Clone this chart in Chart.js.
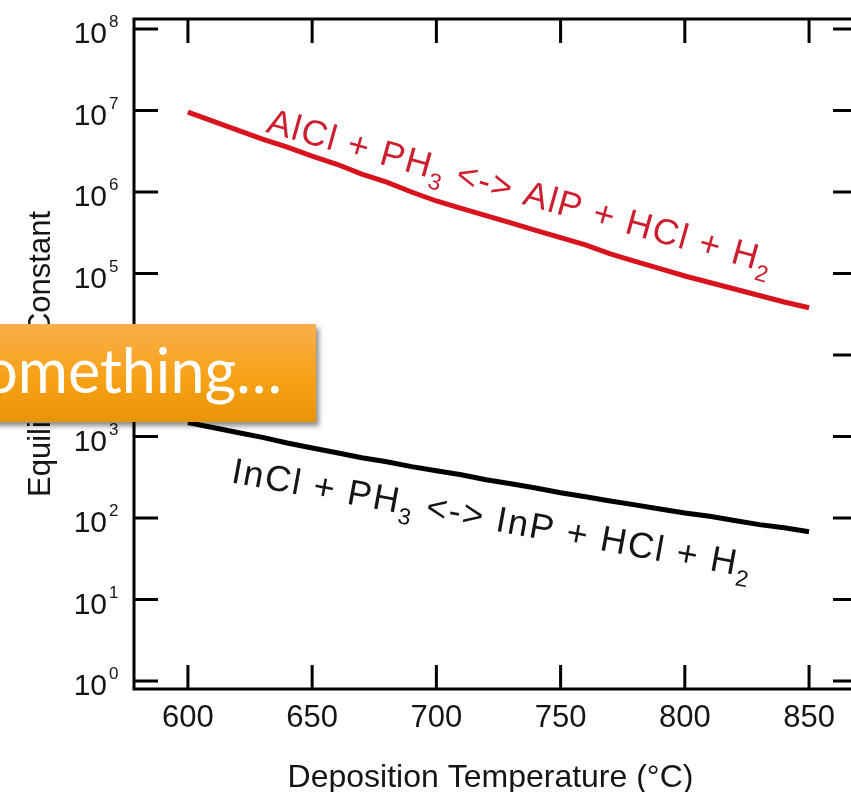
<!DOCTYPE html>
<html>
<head>
<meta charset="utf-8">
<script src="https://cdn.jsdelivr.net/npm/chart.js@4.4.1/dist/chart.umd.min.js"></script>
<style>
  html, body { margin: 0; padding: 0; background: #fff; overflow: hidden; }
  #wrap { position: relative; width: 851px; height: 792px; overflow: hidden; }
  #chartBox { position: absolute; left: 0; top: 0; width: 880px; height: 792px; }
  #banner {
    position: absolute; left: -300px; top: 324px; width: 616px; height: 98px;
    box-sizing: border-box; padding-right: 34px; text-align: right; white-space: nowrap;
    font-family: Lato, "Open Sans", sans-serif; font-size: 61px; line-height: 92px; color: #fff;
    background: linear-gradient(to bottom, #f9ae4a 0%, #f8a526 40%, #f6a112 60%, #e8930a 100%);
    box-shadow: 3px 4px 5px rgba(0, 0, 0, 0.45);
  }
</style>
</head>
<body>
<div id="wrap">
  <div id="chartBox"><canvas id="chart"></canvas></div>
  <div id="banner">Something…</div>
</div>
<script>
// deposition temperature (°C)
var temps = [600, 610, 620, 630, 640, 650, 660, 670, 680, 690, 700, 710, 720,
             730, 740, 750, 760, 770, 780, 790, 800, 810, 820, 830, 840, 850];

// AlCl + PH3 <-> AlP + HCl + H2
var alclK = [9.55e6, 7.41e6, 5.75e6, 4.47e6, 3.55e6, 2.75e6, 2.19e6, 1.66e6, 1.32e6, 1.0e6,
             7.76e5, 6.31e5, 5.13e5, 4.17e5, 3.39e5, 2.75e5, 2.24e5, 1.74e5, 1.41e5, 1.15e5,
             9.33e4, 7.76e4, 6.46e4, 5.37e4, 4.47e4, 3.80e4];

// InCl + PH3 <-> InP + HCl + H2
var inclK = [1480, 1290, 1120, 977, 832, 724, 631, 550, 490, 427,
             380, 339, 295, 263, 234, 204, 182, 162, 145, 129,
             115, 105, 93, 83, 76, 68];

var xTicks = [600, 650, 700, 750, 800, 850];
var yTicks = [1, 10, 100, 1e3, 1e4, 1e5, 1e6, 1e7, 1e8];
var yExps = ['0', '1', '2', '3', '4', '5', '6', '7', '8'];

var xTitle = 'Deposition Temperature (°C)';
var yTitle = 'Equilibrium Constant';

// formula pieces: [text, isSubscript]
var alclLabel = [['AlCl + PH', false], ['3', true], [' <-> AlP + HCl + H', false], ['2', true]];
var inclLabel = [['InCl + PH', false], ['3', true], [' <-> InP + HCl + H', false], ['2', true]];

var FONT = '"Liberation Sans", Arial, Helvetica, sans-serif';

function drawFormula(ctx, parts, x, y, angle, color, spacing) {
    ctx.save();
    ctx.translate(x, y);
    ctx.rotate(angle * Math.PI / 180);
    ctx.fillStyle = color;
    ctx.textAlign = 'left';
    ctx.textBaseline = 'alphabetic';
    ctx.letterSpacing = spacing + 'px';
    var cx = 0;
    parts.forEach(function (p) {
        ctx.font = (p[1] ? 23 : 36) + 'px ' + FONT;
        ctx.fillText(p[0], cx, p[1] ? 10 : 0);
        cx += ctx.measureText(p[0]).width;
    });
    ctx.restore();
}

// frame, inward ticks, labels and titles
var framePlugin = {
    id: 'frame',
    afterDraw: function (chart) {
        var ctx = chart.ctx;
        var a = chart.chartArea;
        var xs = chart.scales.x;
        var ys = chart.scales.y;
        var tick = 24;

        ctx.save();
        ctx.strokeStyle = '#000';
        ctx.lineWidth = 3;
        ctx.strokeRect(a.left, a.top, a.right - a.left, a.bottom - a.top);

        ctx.beginPath();
        xTicks.forEach(function (v) {
            var px = xs.getPixelForValue(v);
            ctx.moveTo(px, a.bottom); ctx.lineTo(px, a.bottom - tick);
            ctx.moveTo(px, a.top); ctx.lineTo(px, a.top + tick);
        });
        yTicks.forEach(function (v) {
            var py = ys.getPixelForValue(v);
            ctx.moveTo(a.left, py); ctx.lineTo(a.left + tick, py);
            ctx.moveTo(a.right, py); ctx.lineTo(a.right - tick, py);
        });
        ctx.stroke();

        ctx.fillStyle = '#151515';
        ctx.textBaseline = 'alphabetic';

        // x tick labels
        ctx.font = '31px ' + FONT;
        ctx.textAlign = 'center';
        xTicks.forEach(function (v) {
            ctx.fillText(String(v), xs.getPixelForValue(v), a.bottom + 38);
        });

        // y tick labels 10^n
        yTicks.forEach(function (v, i) {
            var py = ys.getPixelForValue(v);
            ctx.font = '30px ' + FONT;
            ctx.textAlign = 'right';
            ctx.fillText('10', a.left - 27, py + 14);
            ctx.font = '17px ' + FONT;
            ctx.textAlign = 'left';
            ctx.fillText(yExps[i], a.left - 25, py - 2);
        });

        // axis titles
        ctx.font = '32px ' + FONT;
        ctx.textAlign = 'center';
        ctx.fillText(xTitle, (a.left + a.right) / 2 - 5, 787);

        ctx.save();
        ctx.translate(50, (a.top + a.bottom) / 2);
        ctx.rotate(-Math.PI / 2);
        ctx.font = '31px ' + FONT;
        ctx.fillText(yTitle, 0, 0);
        ctx.restore();

        // reaction labels, anchored in data space
        drawFormula(ctx, alclLabel, xs.getPixelForValue(631), ys.getPixelForValue(5.5e6), 15.7, '#cc2030', 1.5);
        drawFormula(ctx, inclLabel, xs.getPixelForValue(617), ys.getPixelForValue(275), 10.4, '#151515', 1.8);
        ctx.restore();
    }
};

var chart = new Chart(document.getElementById('chart'), {
    type: 'line',
    data: {
        labels: temps,
        datasets: [{
            label: 'AlCl',
            data: alclK,
            borderColor: '#d7141e',
            borderWidth: 5,
            pointRadius: 0,
            tension: 0
        }, {
            label: 'InCl',
            data: inclK,
            borderColor: '#000',
            borderWidth: 5,
            pointRadius: 0,
            tension: 0
        }]
    },
    options: {
        responsive: true,
        maintainAspectRatio: false,
        animation: false,
        layout: { padding: { left: 134, right: 23, top: 19, bottom: 103 } },
        plugins: { legend: { display: false }, tooltip: { enabled: false } },
        scales: {
            x: {
                type: 'linear',
                display: false,
                min: 578.3,
                max: 869.3,
                afterBuildTicks: function (s) { s.ticks = xTicks.map(function (v) { return { value: v }; }); }
            },
            y: {
                type: 'logarithmic',
                display: false,
                min: 0.798,
                max: 1.327e8,
                afterBuildTicks: function (s) { s.ticks = yTicks.map(function (v) { return { value: v }; }); }
            }
        }
    },
    plugins: [framePlugin]
});
</script>
</body>
</html>
